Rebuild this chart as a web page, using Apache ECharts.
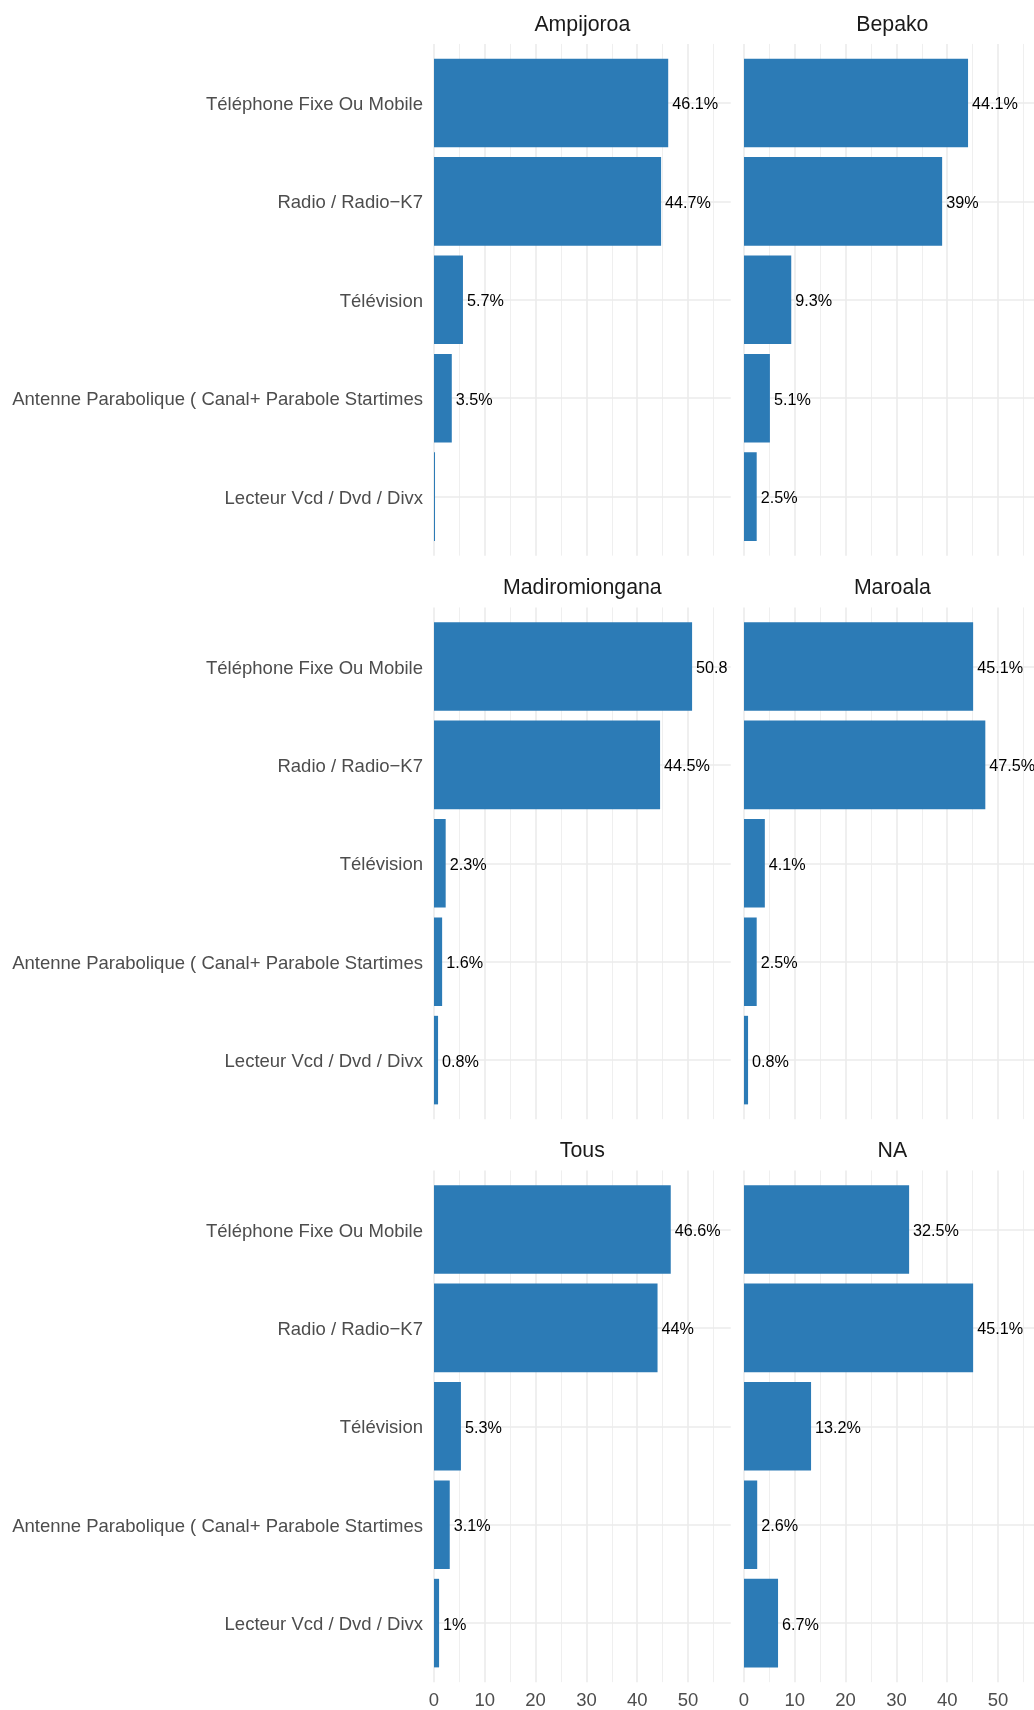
<!DOCTYPE html>
<html>
<head>
<meta charset="utf-8">
<script src="https://cdn.jsdelivr.net/npm/echarts@6/dist/echarts.min.js"></script>
<style>
  html, body { margin: 0; padding: 0; background: #ffffff; }
  #main { width: 1034px; height: 1710px; }
</style>
</head>
<body>
<div id="main"></div>
<script>
// ---- Data ----
const CATEGORIES = [
  'Téléphone Fixe Ou Mobile',
  'Radio / Radio\u2212K7',
  'Télévision',
  'Antenne Parabolique ( Canal+ Parabole Startimes',
  'Lecteur Vcd / Dvd / Divx'
];
const PANELS = ['Ampijoroa', 'Bepako', 'Madiromiongana', 'Maroala', 'Tous', 'NA'];
const V_AMPIJOROA      = [46.1, 44.7, 5.7, 3.5, 0.2];
const V_BEPAKO         = [44.1, 39, 9.3, 5.1, 2.5];
const V_MADIROMIONGANA = [50.8, 44.5, 2.3, 1.6, 0.8];
const V_MAROALA        = [45.1, 47.5, 4.1, 2.5, 0.8];
const V_TOUS           = [46.6, 44, 5.3, 3.1, 1];
const V_NA             = [32.5, 45.1, 13.2, 2.6, 6.7];
const PANEL_VALUES = [V_AMPIJOROA, V_BEPAKO, V_MADIROMIONGANA, V_MAROALA, V_TOUS, V_NA];
const X_TICKS = [0, 10, 20, 30, 40, 50];
const XMAX = 58.4;      // data range of each panel
const GRID_MAX = 60;    // range used only for drawing the gridlines

// ---- Layout ----
const COL_LEFT = [434, 744];
const PANEL_W = 296.7;
const ROW_CENTER = [103, 666.5, 1229.5];
const BAND = 98.4;
const FONT = '"Liberation Sans", Arial, Helvetica, sans-serif';

const chart = echarts.init(document.getElementById('main'));
const grids = [], xAxes = [], yAxes = [], series = [], graphics = [];

PANEL_VALUES.forEach((vals, i) => {
  const col = i % 2, row = Math.floor(i / 2);
  const left = COL_LEFT[col];
  const c0 = ROW_CENTER[row];
  const panelTop = c0 - 0.6 * BAND;
  const panelH = 5.2 * BAND;

  // background grid: vertical gridlines
  grids.push({ left: left, top: panelTop, width: PANEL_W * GRID_MAX / XMAX, height: panelH,
               outerBoundsMode: 'none', containLabel: false });
  const bg = grids.length - 1;
  xAxes.push({
    type: 'value', gridIndex: bg, min: 0, max: GRID_MAX, interval: 10,
    axisLine: { show: false }, axisTick: { show: false },
    axisLabel: {
      show: row === 2, color: '#4D4D4D', fontSize: 18.5, fontFamily: FONT, margin: 9,
      showMaxLabel: false,
      formatter: v => (X_TICKS.indexOf(v) >= 0 ? String(v) : '')
    },
    splitLine: { show: true, showMaxLine: false, lineStyle: { color: '#EBEBEB', width: 1.6 } },
    minorTick: { show: false, splitNumber: 2 },
    minorSplitLine: { show: true, lineStyle: { color: '#EBEBEB', width: 0.8 } }
  });
  yAxes.push({ type: 'value', gridIndex: bg, show: false, min: 0, max: 1, splitLine: { show: false } });

  // bar grid
  grids.push({ left: left, top: c0, width: PANEL_W, height: 4 * BAND,
               outerBoundsMode: 'none', containLabel: false });
  const bi = grids.length - 1;
  xAxes.push({ type: 'value', gridIndex: bi, min: 0, max: XMAX, show: false, splitLine: { show: false } });
  yAxes.push({
    type: 'category', gridIndex: bi, data: CATEGORIES, inverse: true, boundaryGap: false,
    axisLine: { show: false }, axisTick: { show: false },
    axisLabel: {
      show: col === 0, interval: 0, margin: 11,
      formatter: v => '{a|' + v + '}',
      rich: { a: { color: '#4D4D4D', fontSize: 18.5, fontFamily: FONT, padding: [4, 0, 0, 0] } }
    },
    splitLine: { show: true, interval: 0, lineStyle: { color: '#EBEBEB', width: 1.6 } }
  });

  const pxPerUnit = PANEL_W / XMAX;
  series.push({
    type: 'bar', xAxisIndex: xAxes.length - 1, yAxisIndex: yAxes.length - 1,
    barWidth: '90%', clip: false,
    itemStyle: { color: '#2C7BB6' },
    data: vals.map(v => ({
      value: v,
      label: { width: Math.max(0, (XMAX - v) * pxPerUnit) }
    })),
    label: {
      show: true, position: 'right', distance: 4, offset: [0, 2], color: '#000000',
      fontSize: 16.2, fontFamily: FONT, overflow: 'truncate', ellipsis: '',
      formatter: p => (p.value < 0.5 ? '' : p.value + '%')
    }
  });

  graphics.push({
    type: 'text',
    x: left + PANEL_W / 2, y: c0 - 78,
    style: {
      text: PANELS[i], fill: '#1A1A1A', font: '21.3px ' + FONT,
      align: 'center', verticalAlign: 'middle'
    }
  });
});

chart.setOption({
  backgroundColor: '#ffffff',
  animation: false,
  grid: grids, xAxis: xAxes, yAxis: yAxes, series: series,
  graphic: graphics
});
</script>
</body>
</html>
